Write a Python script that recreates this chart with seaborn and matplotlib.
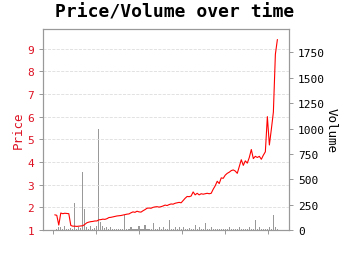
import matplotlib
matplotlib.use("Agg")
import matplotlib.pyplot as plt
import seaborn as sns
import pandas as pd
import numpy as np

dates = pd.date_range("2013-01-18", periods=112, freq="17D")

price = [
    1.67, 1.65, 1.22, 1.75, 1.72, 1.74, 1.73, 1.72, 1.20, 1.17,
    1.17, 1.16, 1.17, 1.18, 1.19, 1.25, 1.32, 1.35, 1.37, 1.38,
    1.40, 1.40, 1.45, 1.46, 1.48, 1.47, 1.50, 1.55, 1.56, 1.58,
    1.60, 1.62, 1.63, 1.64, 1.66, 1.68, 1.70, 1.71, 1.76, 1.80,
    1.78, 1.83, 1.80, 1.79, 1.85, 1.90, 1.96, 1.97, 1.96, 2.00,
    2.02, 2.03, 2.01, 2.03, 2.06, 2.10, 2.08, 2.12, 2.15, 2.14,
    2.18, 2.20, 2.22, 2.20, 2.30, 2.40, 2.48, 2.47, 2.50, 2.68,
    2.55, 2.62, 2.55, 2.60, 2.58, 2.60, 2.62, 2.60, 2.62, 2.80,
    2.95, 3.15, 3.05, 3.30, 3.28, 3.42, 3.50, 3.55, 3.62, 3.65,
    3.60, 3.50, 3.80, 4.10, 3.85, 4.05, 3.95, 4.20, 4.55, 4.15,
    4.25, 4.20, 4.25, 4.12, 4.30, 4.45, 6.00, 4.75, 5.45, 6.20,
    8.75, 9.40,
]

volume = [
    0, 10, 27, 33, 12, 40, 15, 8, 20, 12,
    263, 14, 30, 18, 568, 207, 33, 15, 40, 10,
    22, 40, 995, 76, 43, 18, 30, 12, 30, 10,
    15, 8, 12, 10, 9, 151, 14, 10, 30, 8,
    12, 6, 43, 10, 14, 53, 9, 12, 8, 66,
    10, 7, 30, 12, 33, 8, 14, 98, 9, 10,
    25, 7, 30, 9, 25, 12, 8, 20, 10, 12,
    52, 9, 30, 11, 8, 66, 10, 12, 25, 7,
    9, 12, 10, 8, 11, 9, 12, 30, 8, 10,
    9, 12, 25, 8, 10, 12, 9, 30, 11, 8,
    98, 10, 25, 9, 12, 8, 10, 25, 12, 145,
    25, 10,
]

df = pd.DataFrame({"date": dates, "price": price, "volume": volume})

sns.set_theme(style="white")
plt.rcParams["font.family"] = ["DejaVu Sans Mono", "DejaVu Sans"]
plt.rcParams["text.color"] = "black"

fig = plt.figure(figsize=(3.5, 2.55), dpi=100)
ax = fig.add_axes([0.123, 0.094, 0.703, 0.788])
ax2 = ax.twinx()

ax2.bar(df["date"], df["volume"], width=9, color="#808080", alpha=0.8, linewidth=0)
sns.lineplot(data=df, x="date", y="price", ax=ax, color="#ff0000", linewidth=0.8)

ax.set_zorder(ax2.get_zorder() + 1)
ax.patch.set_visible(False)

ax.set_ylim(1, 9.86)
ax.set_yticks(range(1, 10))
ax2.set_ylim(0, 1980)
ax2.set_yticks([0, 250, 500, 750, 1000, 1250, 1500, 1750])

ticks = pd.to_datetime(["2013-01-01", "2014-01-01", "2015-01-01", "2016-01-01",
                        "2017-01-01", "2018-01-01"])
ax.set_xticks(ticks)
ax.set_xticklabels([])
ax.set_xlabel("")

ax.grid(axis="y", color="#dddddd", linestyle="--", linewidth=0.6)
ax.grid(axis="x", visible=False)
ax2.grid(False)

red = "#dd1122"
ax.set_ylabel("Price", color=red, fontsize=9, labelpad=2)
ax2.set_ylabel("Volume", color="black", fontsize=9, rotation=270, labelpad=9)
ax.tick_params(axis="y", colors="#888888", labelcolor=red, labelsize=8, length=3, width=0.6, left=True)
ax.tick_params(axis="x", colors="#888888", length=3, width=0.6, bottom=True)
ax2.tick_params(axis="y", colors="#888888", labelcolor="black", labelsize=8, length=3, width=0.6, right=True)

for a in (ax, ax2):
    for s in a.spines.values():
        s.set_color("#999999")
        s.set_linewidth(0.8)

fig.suptitle("Price/Volume over time", fontsize=13, fontweight="bold", color="black", y=0.985)

fig.savefig("out.png", dpi=100)
